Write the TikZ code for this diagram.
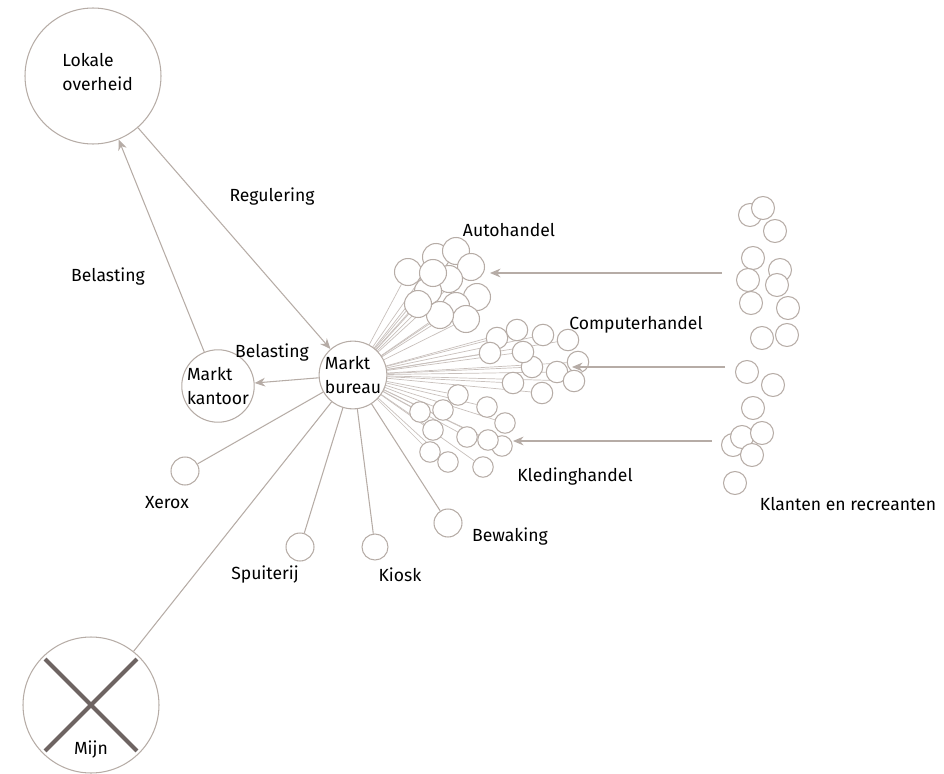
\documentclass[tikz,border=0pt]{standalone}
\usepackage{fontspec}
\setmainfont{Fira Sans}
\usetikzlibrary{arrows.meta,backgrounds}
\definecolor{rim}{RGB}{182,172,166}
\definecolor{fanline}{RGB}{200,192,188}
\definecolor{cross}{RGB}{110,100,98}

\begin{document}
\begin{tikzpicture}[>={Stealth[length=6pt,width=5pt]}, x=0.02cm, y=-0.02cm,
    font=\fontsize{10}{14}\selectfont,
    ring/.style={circle, draw=rim, line width=0.6pt, inner sep=0pt},
    cell/.style={ring, fill=white, minimum size=#1},
    link/.style={draw=rim, line width=0.6pt},
    fan/.style={draw=fanline, line width=0.4pt},
    lbl/.style={inner sep=0pt}]
  \useasboundingbox (0,0) rectangle (944,774);

  % main actors
  \node[ring, minimum size=2.72cm] (overheid) at (93,76) {};
  \node[lbl, align=left, anchor=west] (overheidtxt) at (62,72) {Lokale\\overheid};
  \node[ring, minimum size=1.32cm, align=left] (kantoor) at (218,386) {Markt\\kantoor};
  \node[ring, minimum size=1.32cm, align=left] (bureau) at (353,375) {Markt\\bureau};
  \node[ring, minimum size=2.72cm] (mijn) at (91,705) {};
  \draw[cross, line width=2.3pt, shorten <=2pt, shorten >=2pt] (mijn.north west) -- (mijn.south east);
  \draw[cross, line width=2.3pt, shorten <=2pt, shorten >=2pt] (mijn.north east) -- (mijn.south west);
  \node[lbl] (mijntxt) at (91,750) {Mijn};

  \draw[link, ->] (overheid) -- (bureau);
  \draw[link, ->] (kantoor) -- (overheid);
  \draw[link, ->] (bureau) -- (kantoor);
  \draw[link] (mijn) -- (bureau);
  \node[lbl] (regtxt) at (272,197) {Regulering};
  \node[lbl] (bel1) at (108,277) {Belasting};
  \node[lbl] (bel2) at (272,353) {Belasting};

  % small services
  \node[ring, minimum size=0.56cm] (xerox) at (185,471) {};
  \node[ring, minimum size=0.56cm] (spuit) at (300,547) {};
  \node[ring, minimum size=0.52cm] (kiosk) at (375,547) {};
  \node[ring, minimum size=0.56cm] (bewaking) at (448,523) {};
  \foreach \s in {xerox,spuit,kiosk,bewaking}
    \draw[link] (bureau) -- (\s);
  \node[lbl] (xeroxtxt) at (167,503) {Xerox};
  \node[lbl] (spuittxt) at (265,575) {Spuiterij};
  \node[lbl] (kiosktxt) at (400,575) {Kiosk};
  \node[lbl] (bewtxt) at (510,537) {Bewaking};

  % traders
  \foreach \x/\y [count=\i] in {408/272,436/257,456/251,471/267,449/279,428/291,
      477/297,456/306,466/319,440/315,418/304,433/273}
    \node[cell=0.54cm] (auto\i) at (\x,\y) {};
  \foreach \x/\y [count=\i] in {497/338,517/330,543/335,568/340,578/362,557/372,
      532/367,513/383,542/393,574/381,523/352,490/353}
    \node[cell=0.43cm] (comp\i) at (\x,\y) {};
  \foreach \x/\y [count=\i] in {458/395,487/407,505/423,502/446,483/467,448/462,
      430/452,433/430,467/437,443/410,420/412,488/440}
    \node[cell=0.41cm] (kled\i) at (\x,\y) {};
  \begin{scope}[on background layer]
    \foreach \i in {1,...,12} {
      \draw[fan] (bureau) -- (auto\i);
      \draw[fan] (bureau) -- (comp\i);
      \draw[fan] (bureau) -- (kled\i);
    }
  \end{scope}
  \node[lbl] (autotxt) at (509,230) {Autohandel};
  \node[lbl] (comptxt) at (636,325) {Computerhandel};
  \node[lbl] (kledtxt) at (575,477) {Kledinghandel};

  % customers
  \foreach \x/\y [count=\i] in {750/215,763/208,775/231,753/258,748/280,780/270,
      777/285,751/303,788/308,762/338,787/335,747/372,773/385,753/408,733/445,
      742/437,762/433,752/455,735/483}
    \node[cell=0.46cm] (klant\i) at (\x,\y) {};
  \node[lbl] (klanttxt) at (848,504) {Klanten en recreanten};

  \coordinate (from1) at (722,273);
  \coordinate (to1) at (490,273);
  \coordinate (from2) at (725,367);
  \coordinate (to2) at (572,367);
  \coordinate (from3) at (712,441);
  \coordinate (to3) at (513,441);
  \foreach \i in {1,2,3}
    \draw[link, ->] (from\i) -- (to\i);
\end{tikzpicture}
\end{document}
